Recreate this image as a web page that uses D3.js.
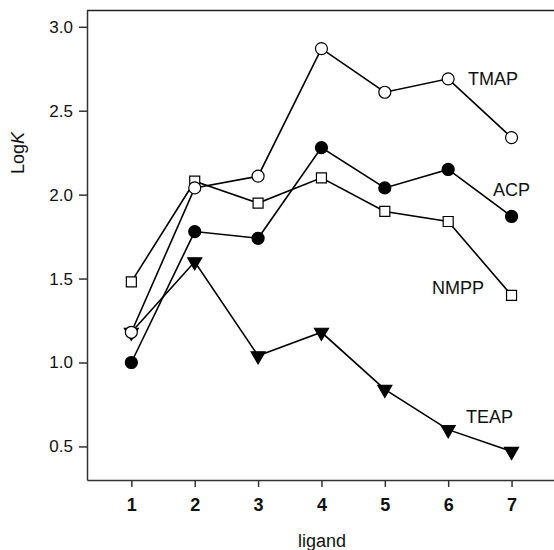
<!DOCTYPE html>
<html>
<head>
<meta charset="utf-8">
<script src="https://cdn.jsdelivr.net/npm/d3@7"></script>
<style>
  body { margin: 0; background: #fff; }
  svg { display: block; font-family: "Liberation Sans", Arial, sans-serif; }
</style>
</head>
<body>
<svg id="chart" width="554" height="550"></svg>
<script>
// data
const ligands = [1, 2, 3, 4, 5, 6, 7];
const yTicks = [0.5, 1.0, 1.5, 2.0, 2.5, 3.0];
const tmap = [1.18, 2.04, 2.11, 2.87, 2.61, 2.69, 2.34];
const acp  = [1.00, 1.78, 1.74, 2.28, 2.04, 2.15, 1.87];
const nmpp = [1.48, 2.08, 1.95, 2.10, 1.90, 1.84, 1.40];
const teap = [1.18, 1.60, 1.04, 1.18, 0.84, 0.60, 0.47];

const series = [
    { name: "NMPP", values: nmpp, marker: "square", fill: "#fff", lx: 432, ly: 294 },
    { name: "TEAP", values: teap, marker: "triangle", fill: "#000", lx: 466, ly: 423 },
    { name: "ACP", values: acp, marker: "circle", fill: "#000", lx: 493, ly: 196 },
    { name: "TMAP", values: tmap, marker: "circle", fill: "#fff", lx: 468, ly: 85 }
];

const svg = d3.select("#chart");
const plotL = 87, plotR = 554, plotT = 10, plotB = 480;

const x = d3.scaleLinear().domain([0.3, 7.67]).range([plotL, plotR]);
const y = d3.scaleLinear().domain([0.3, 3.1]).range([plotB, plotT]);

// frame top line
svg.append("line")
    .attr("x1", plotL).attr("x2", plotR).attr("y1", plotT + 0.5).attr("y2", plotT + 0.5)
    .attr("stroke", "#222").attr("stroke-width", 1.5);

// axes
const yAxis = svg.append("g")
    .attr("transform", `translate(${plotL},0)`)
    .call(d3.axisLeft(y).tickValues(yTicks).tickFormat(d3.format(".1f")).tickSize(8).tickSizeOuter(0));
const xAxis = svg.append("g")
    .attr("transform", `translate(0,${plotB})`)
    .call(d3.axisBottom(x).tickValues(ligands).tickFormat(d3.format("d")).tickSize(7).tickSizeOuter(0));

[yAxis, xAxis].forEach(g => {
    g.select(".domain").attr("stroke", "#333").attr("stroke-width", 1.5);
    g.selectAll(".tick line").attr("stroke", "#333").attr("stroke-width", 1.5);
    g.selectAll(".tick text").attr("fill", "#111").attr("font-size", 17)
        .attr("font-family", "Liberation Sans, Arial, sans-serif");
});
yAxis.selectAll(".tick text").attr("x", -14);
xAxis.selectAll(".tick text").attr("font-weight", "bold").attr("font-size", 18).attr("y", 18);

// axis titles
svg.append("text")
    .attr("x", 322).attr("y", 547)
    .attr("text-anchor", "middle").attr("font-size", 18).attr("fill", "#111")
    .text("ligand");

const yTitle = svg.append("text")
    .attr("transform", "translate(24,153) rotate(-90)")
    .attr("text-anchor", "middle").attr("font-size", 18).attr("fill", "#111");
yTitle.append("tspan").text("Log");
yTitle.append("tspan").attr("font-style", "italic").text("K");

// lines
const line = d3.line().x((d, i) => x(ligands[i])).y(d => y(d));

series.forEach(s => {
    svg.append("path")
        .datum(s.values)
        .attr("d", line)
        .attr("fill", "none")
        .attr("stroke", "#000")
        .attr("stroke-width", 1.6);
});

// markers
const symbolFor = {
    circle: d3.symbol().type(d3.symbolCircle).size(Math.PI * 36),
    square: d3.symbol().type(d3.symbolSquare).size(100),
    triangle: d3.symbol().type(d3.symbolTriangle).size(85)
};

series.forEach(s => {
    svg.append("g").selectAll("path")
        .data(s.values)
        .enter().append("path")
        .attr("d", symbolFor[s.marker]())
        .attr("transform", (d, i) => `translate(${x(ligands[i])},${y(d)})` + (s.marker === "triangle" ? " rotate(180)" : ""))
        .attr("fill", s.fill)
        .attr("stroke", "#000")
        .attr("stroke-width", 1.2);

    svg.append("text")
        .attr("x", s.lx).attr("y", s.ly)
        .attr("font-size", 18).attr("fill", "#111")
        .text(s.name);
});
</script>
</body>
</html>
